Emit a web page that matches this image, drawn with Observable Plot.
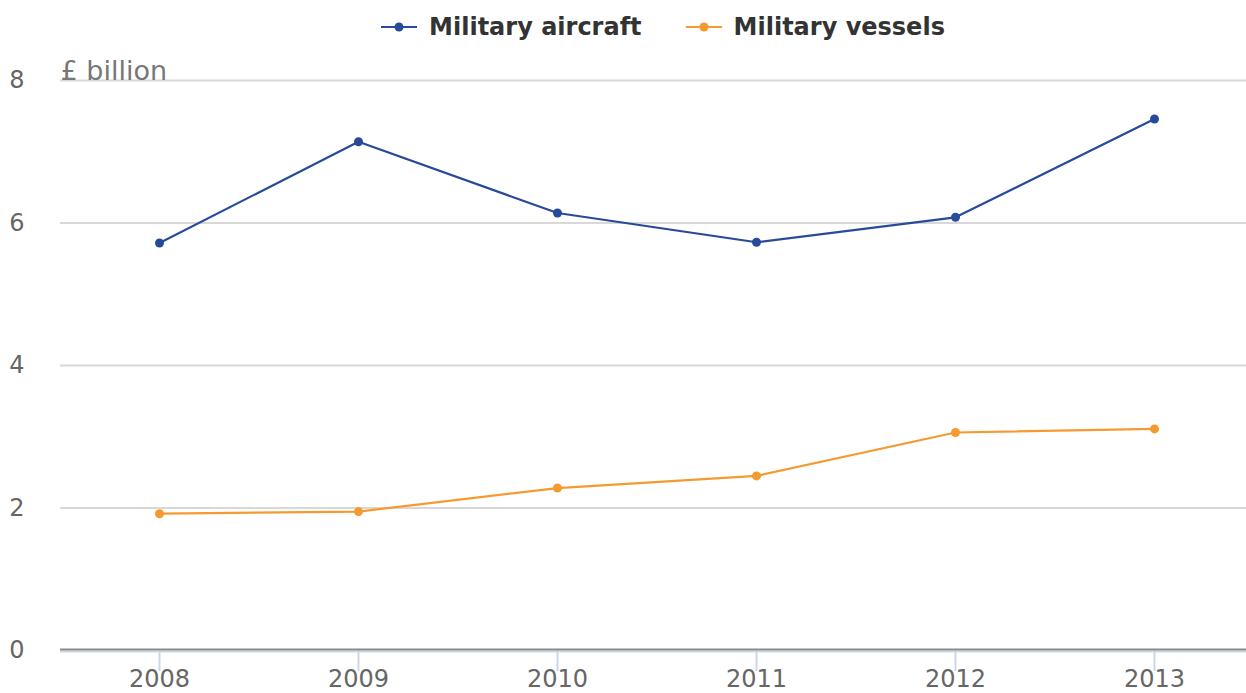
<!DOCTYPE html>
<html>
<head>
<meta charset="utf-8">
<script src="https://cdn.jsdelivr.net/npm/d3@7"></script>
<script src="https://cdn.jsdelivr.net/npm/@observablehq/plot@0.6"></script>
<style>
  html, body { margin: 0; padding: 0; background: #fff; }
  body { width: 1246px; height: 693px; overflow: hidden; font-family: "DejaVu Sans", sans-serif; }
  #legend { height: 50px; display: flex; justify-content: center; align-items: center; gap: 44px; padding-left: 80px; padding-top: 4px; box-sizing: border-box; }
  .item { display: flex; align-items: center; gap: 12px; font-weight: bold; font-size: 24px; color: #333; }
  #chart svg { display: block; }
</style>
</head>
<body>
<div id="legend"></div>
<div id="chart"></div>
<script>
const years = ["2008", "2009", "2010", "2011", "2012", "2013"];
const aircraft = [5.72, 7.14, 6.14, 5.73, 6.08, 7.46];
const vessels = [1.92, 1.95, 2.28, 2.45, 3.06, 3.11];
const seriesNames = ["Military aircraft", "Military vessels"];
const seriesColors = ["#274a99", "#f59a31"];
const yTicks = [0, 2, 4, 6, 8];
const unitLabel = "£ billion";

const rows = [];
years.forEach((y, i) => {
  rows.push({year: y, value: aircraft[i], series: seriesNames[0]});
  rows.push({year: y, value: vessels[i], series: seriesNames[1]});
});

// Legend
const legend = document.getElementById("legend");
seriesNames.forEach((name, i) => {
  const el = document.createElement("div");
  el.className = "item";
  el.innerHTML = `<svg width="36" height="12"><line x1="0" y1="6" x2="36" y2="6" stroke="${seriesColors[i]}" stroke-width="2"/><circle cx="18" cy="6" r="4.5" fill="${seriesColors[i]}"/></svg><span>${name}</span>`;
  legend.appendChild(el);
});

const chart = Plot.plot({
  width: 1246,
  height: 643,
  marginLeft: 60,
  marginRight: 0,
  marginTop: 30,
  marginBottom: 43,
  style: {fontFamily: "DejaVu Sans, sans-serif", fontSize: "24px", background: "#fff"},
  x: {type: "point", domain: years, range: [157.5, 1155.5], padding: 0, label: null},
  y: {domain: [0, 8], label: null},
  color: {domain: seriesNames, range: seriesColors},
  marks: [
    Plot.ruleY(yTicks.filter(d => d > 0), {stroke: "#d8d8d8", strokeWidth: 2}),
    Plot.axisY(yTicks, {tickSize: 0, tickPadding: 36, tickFormat: d => String(d), fill: "#666", fontSize: 24}),
    Plot.axisX(years, {tickSize: 21, tickPadding: -2, stroke: "#ccd6eb", strokeWidth: 2, fill: "#666", fontSize: 24}),
    Plot.ruleY([0], {stroke: "#ccd6eb", strokeWidth: 2, dy: 1}),
    Plot.ruleY([0], {stroke: "#8a8a8a", strokeWidth: 2, dy: -1}),
    Plot.text([unitLabel], {frameAnchor: "top-left", textAnchor: "start", lineAnchor: "bottom", dy: -1, fill: "#777", fontSize: 27}),
    Plot.line(rows, {x: "year", y: "value", stroke: "series", strokeWidth: 2.2}),
    Plot.dot(rows, {x: "year", y: "value", fill: "series", r: 4.5})
  ]
});
document.getElementById("chart").appendChild(chart);
</script>
</body>
</html>
